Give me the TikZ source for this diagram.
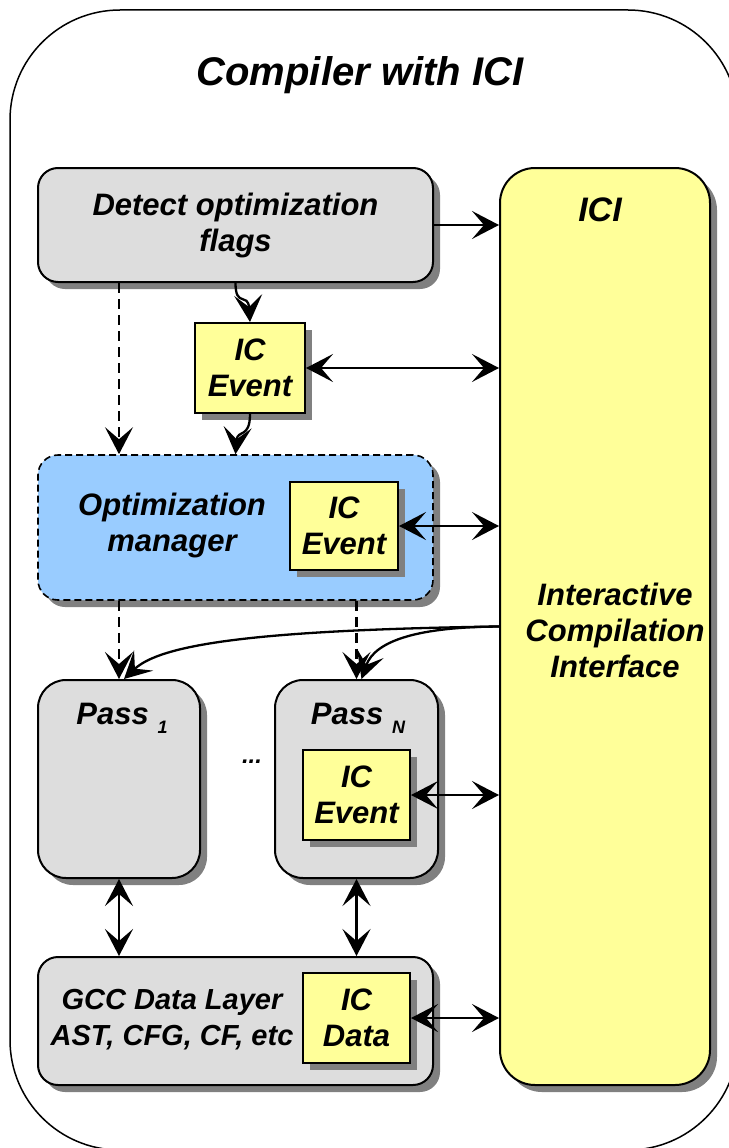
\documentclass[tikz,border=0pt]{standalone}
\usepackage{fontspec}
\setmainfont{Liberation Sans}
\usepackage{tikz}
\usetikzlibrary{arrows.meta,positioning,calc,shadows}

\definecolor{boxgray}{HTML}{DDDDDD}
\definecolor{icyellow}{HTML}{FFFF99}
\definecolor{optblue}{HTML}{99CCFF}
\definecolor{shadowgray}{HTML}{808080}

\begin{document}
\begin{tikzpicture}[x=1pt, y=-1pt,
  every node/.style={font=\fontsize{31}{36}\selectfont\bfseries\itshape, align=center, inner sep=0pt},
  shadowed/.style={drop shadow={shadow xshift=7pt, shadow yshift=-7pt, fill=shadowgray, opacity=1}},
  graybox/.style={draw, line width=2pt, fill=boxgray, rounded corners=20pt, shadowed},
  icibox/.style={draw, line width=2pt, fill=icyellow, rounded corners=35pt, shadowed},
  icbox/.style={draw, line width=2pt, fill=icyellow, shadowed},
  arr/.style={line width=2.3pt, -{Stealth[length=27pt, width=28pt, inset=12pt]}},
  biarr/.style={line width=2.3pt, {Stealth[length=27pt, width=28pt, inset=12pt]}-{Stealth[length=27pt, width=28pt, inset=12pt]}},
  dasharr/.style={arr, dash pattern=on 10pt off 6pt}]

  \useasboundingbox (0,0) rectangle (728,1148);

  % === Outer frame ===
  \draw[line width=1.5pt, rounded corners=110pt] (10,10) rectangle (738,1150);
  \node[font=\fontsize{40}{44}\selectfont\bfseries\itshape] (title) at (360,75) {Compiler with ICI};

  % === ICI column ===
  \node[icibox, minimum width=210pt, minimum height=917pt] (ici) at (605,626.5) {};
  \node[font=\fontsize{34}{38}\selectfont\bfseries\itshape] (icititle) at (600,210) {ICI};
  \node (icifull) at (615,630) {Interactive\\Compilation\\Interface};

  % === Flags and first event ===
  \node[graybox, minimum width=395pt, minimum height=114pt] (detect) at (235.5,225)
    {Detect optimization\\flags};
  \node[icbox, minimum width=110pt, minimum height=90pt] (ev1) at (250,368) {IC\\Event};

  % === Optimization manager ===
  \node[graybox, fill=optblue, dash pattern=on 7pt off 4pt, line width=1.6pt,
    minimum width=395pt, minimum height=145pt] (opt) at (235.5,527.5) {};
  \node (optlabel) at (172,525) {Optimization\\manager};
  \node[icbox, minimum width=108pt, minimum height=88pt] (ev2) at (344,526) {IC\\Event};

  % === Passes ===
  \node[graybox, rounded corners=28pt, minimum width=162pt, minimum height=198pt] (pass1) at (119,779) {};
  \node[graybox, rounded corners=28pt, minimum width=163pt, minimum height=198pt] (passN) at (356.5,779) {};
  \node (pass1label) at (122,718) {Pass \raisebox{-9pt}{\fontsize{18}{18}\selectfont 1}};
  \node (passNlabel) at (358,718) {Pass \raisebox{-9pt}{\fontsize{18}{18}\selectfont N}};
  \node[font=\fontsize{24}{24}\selectfont\bfseries\itshape] (dots) at (252,762) {...};
  \node[icbox, minimum width=107pt, minimum height=90pt] (ev3) at (356.5,795) {IC\\Event};

  % === GCC data layer ===
  \node[graybox, minimum width=395pt, minimum height=128pt] (gcc) at (235.5,1021) {};
  \node[font=\fontsize{29}{36}\selectfont\bfseries\itshape] (gcclabel) at (172,1020)
    {GCC Data Layer\\AST, CFG, CF, etc};
  \node[icbox, minimum width=107pt, minimum height=90pt] (icdata) at (356.5,1018) {IC\\Data};

  % === Connectors ===
  \draw[arr] (detect.east) -- (detect.east -| ici.west);
  \draw[arr] (detect.south) .. controls +(0,25) and +(-2,-30) .. (ev1.north);
  \draw[arr] (ev1.south) .. controls +(0,25) and +(2,-25) .. (opt.north);
  \draw[dasharr] (detect.south -| pass1.north) -- (opt.north -| pass1.north);
  \draw[dasharr] (opt.south -| pass1.north) -- (pass1.north);
  \draw[dasharr] (opt.south -| passN.north) -- (passN.north);
  \foreach \ev in {ev1, ev2, ev3, icdata}
    \draw[biarr] (\ev.east) -- (\ev.east -| ici.west);
  \foreach \p in {pass1, passN}
    \draw[biarr] (\p.south) -- (gcc.north -| \p.south);
  \draw[arr] (ici.west) .. controls (250,630) and (160,645) .. ([xshift=5pt]pass1.north);
  \draw[arr] (ici.west) .. controls (420,627) and (375,640) .. ([xshift=5pt]passN.north);

\end{tikzpicture}
\end{document}
